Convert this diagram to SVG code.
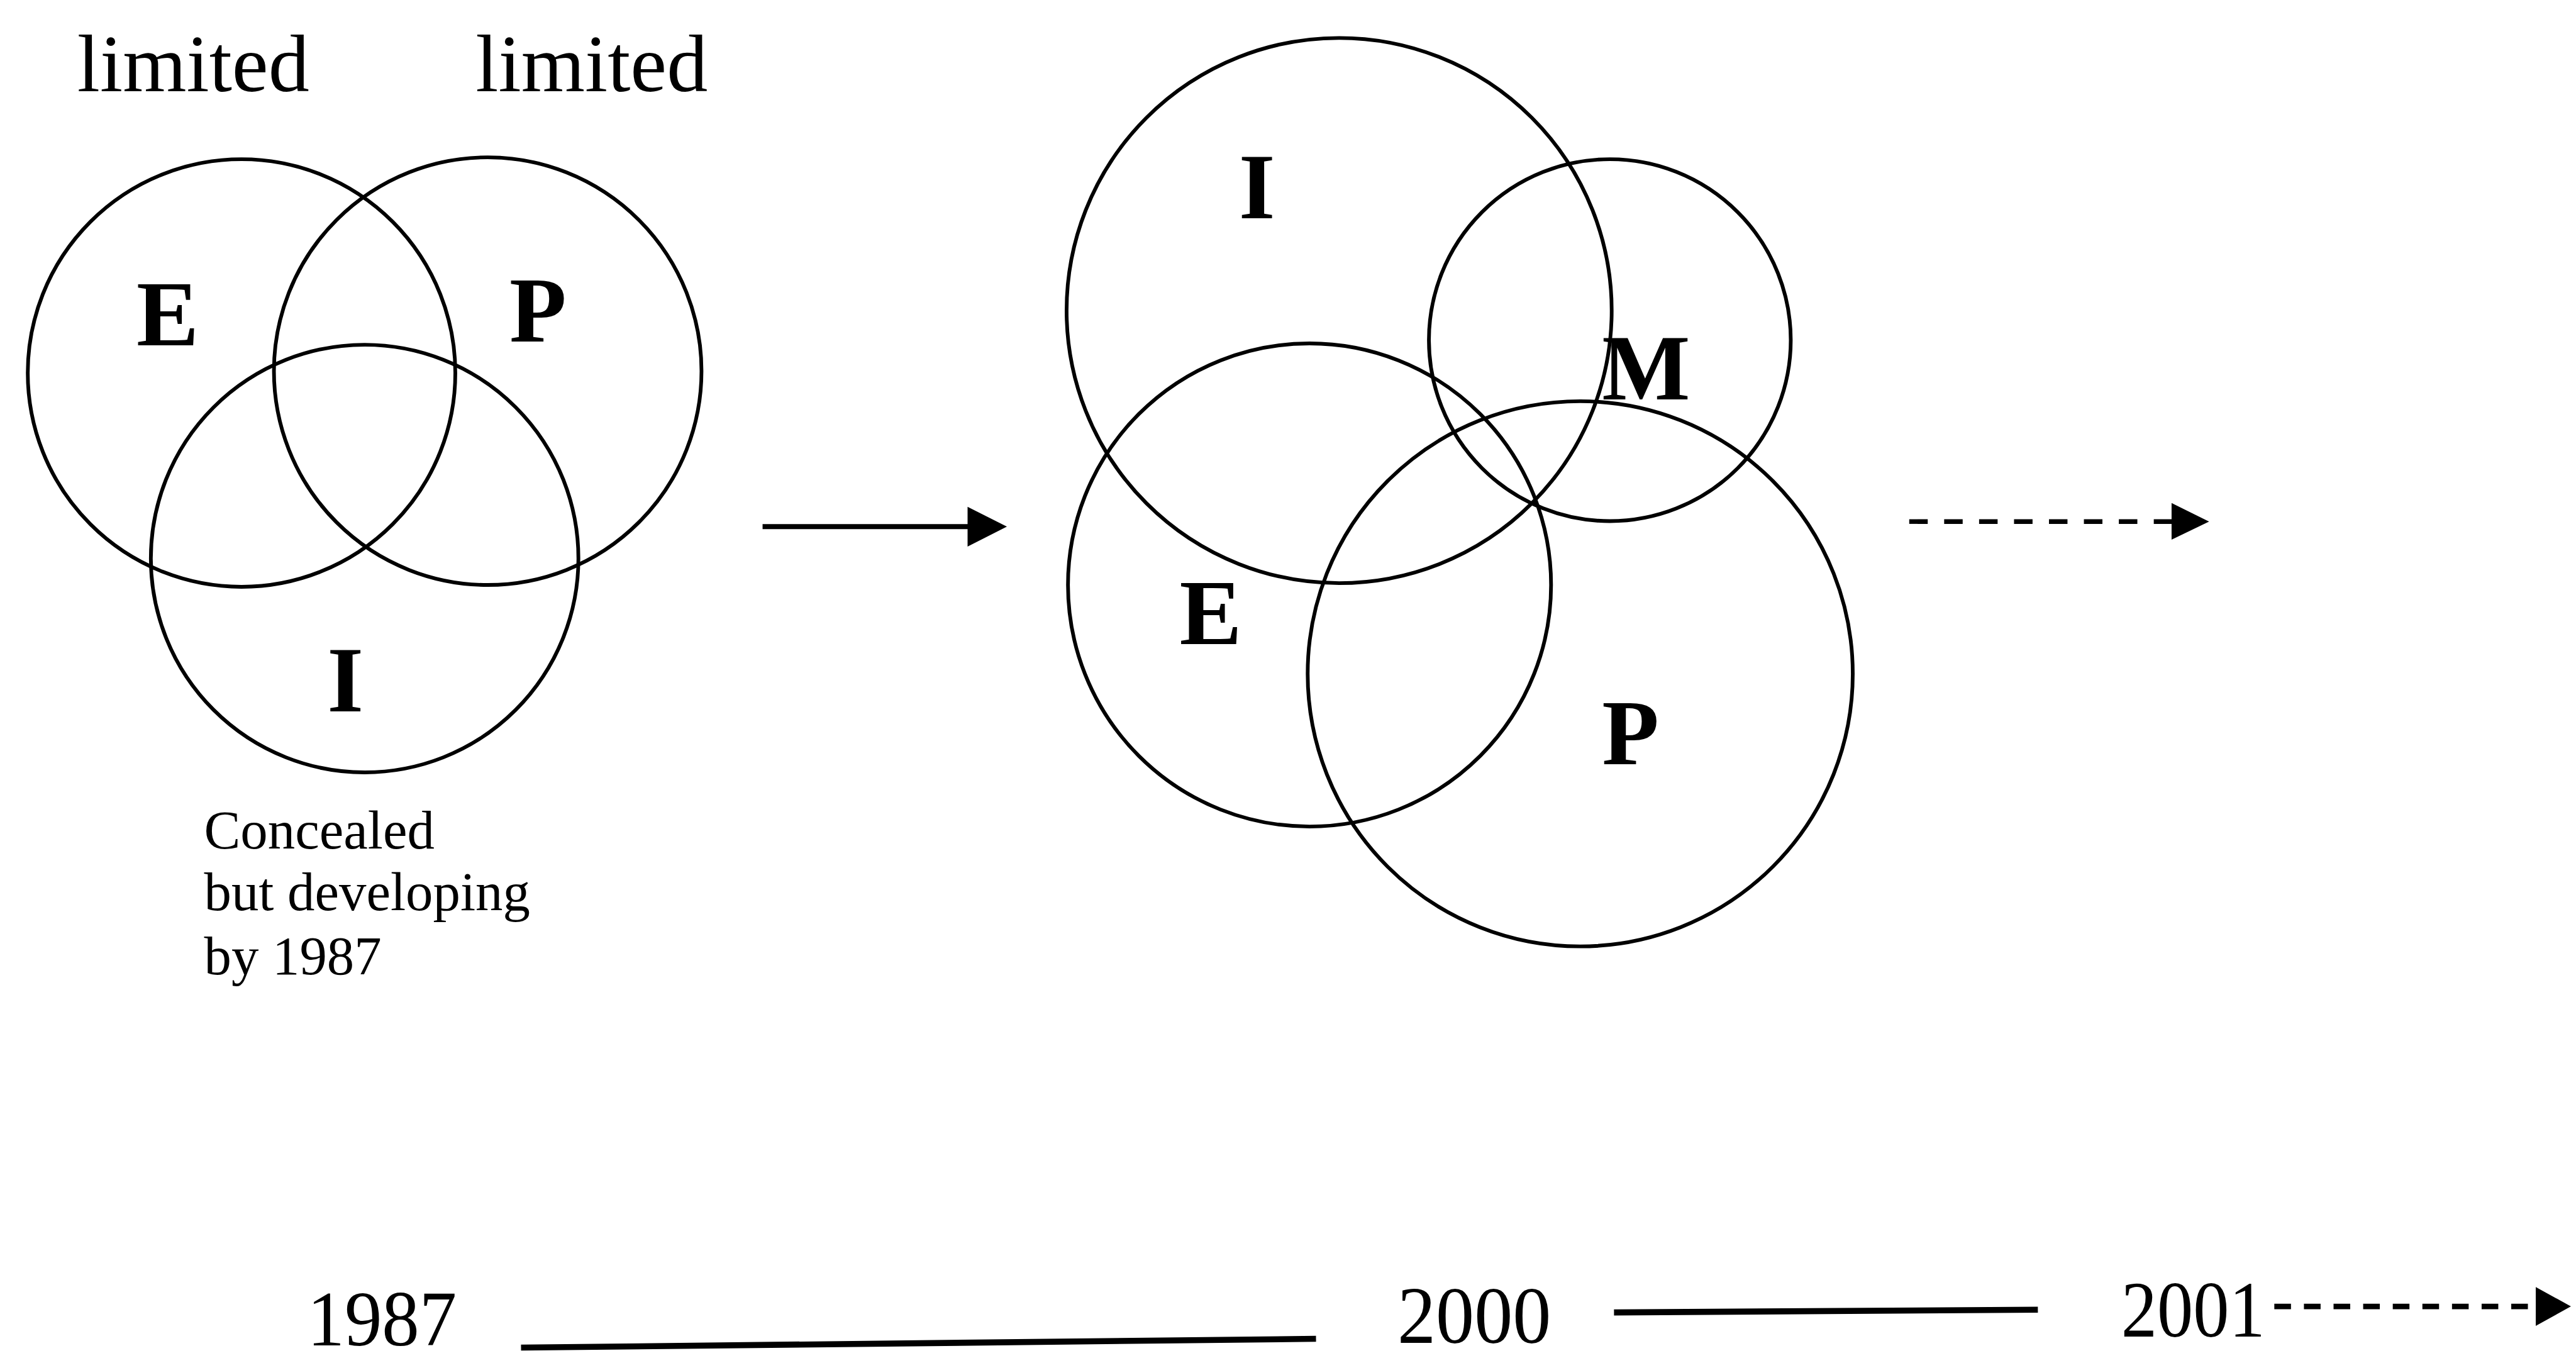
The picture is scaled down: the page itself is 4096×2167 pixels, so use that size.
<svg xmlns="http://www.w3.org/2000/svg" width="4096" height="2167" viewBox="0 0 4096 2167">
<defs>
<style>
.c{fill:none;stroke:#000;stroke-width:8}
.lbl{font-family:"Liberation Serif","Times New Roman",serif;font-weight:bold;font-size:202px;fill:#000}
.t{font-family:"Liberation Serif","Times New Roman",serif;fill:#000}
.ln{stroke:#000;fill:none}
.hd{fill:#000}
</style>
</defs>
<rect width="4096" height="2167" fill="#fff"/>
<g transform="scale(0.73577)">
<g id="labels-top">
<text class="t" x="167" y="197" font-size="177">limited</text>
<text class="t" x="1028" y="197" font-size="177">limited</text>
</g>
<g id="venn-1987">
<g id="c1-E"><circle class="c" cx="522" cy="806" r="462"/><text class="lbl" x="295" y="746">E</text></g>
<g id="c1-P"><circle class="c" cx="1054" cy="802" r="462"/><text class="lbl" x="1101" y="738">P</text></g>
<g id="c1-I"><circle class="c" cx="788" cy="1207" r="462"/><text class="lbl" x="707" y="1537">I</text></g>
</g>
<g id="note">
<text class="t" font-size="118"><tspan x="441" y="1833">Concealed</tspan><tspan x="441" y="1967">but developing</tspan><tspan x="441" y="2105">by 1987</tspan></text>
</g>
<g id="venn-2000">
<g id="c2-I"><circle class="c" cx="2894" cy="671" r="589"/><text class="lbl" x="2677" y="472">I</text></g>
<g id="c2-M"><circle class="c" cx="3479" cy="735" r="391"/><text class="lbl" x="3462" y="863">M</text></g>
<g id="c2-E"><circle class="c" cx="2830" cy="1264" r="522"/><text class="lbl" x="2549" y="1392">E</text></g>
<g id="c2-P"><circle class="c" cx="3415" cy="1456" r="589"/><text class="lbl" x="3462" y="1651">P</text></g>
</g>
<g id="timeline-labels">
<text class="t" x="664" y="2907" font-size="170" textLength="323" lengthAdjust="spacingAndGlyphs">1987</text>
<text class="t" x="3020" y="2902" font-size="176" textLength="332" lengthAdjust="spacingAndGlyphs">2000</text>
<text class="t" x="4584" y="2888" font-size="172" textLength="311" lengthAdjust="spacingAndGlyphs">2001</text>
</g>
<g id="connectors">
<line class="ln" x1="1648" y1="1138" x2="2095" y2="1138" stroke-width="11"/>
<polygon class="hd" points="2091,1095 2176,1138 2091,1181"/>
<line class="ln" x1="4126" y1="1127" x2="4697" y2="1127" stroke-width="10" stroke-dasharray="40 35.5"/>
<polygon class="hd" points="4693,1087 4774,1127 4693,1166"/>
<line class="ln" x1="1126" y1="2912" x2="2844" y2="2893" stroke-width="13"/>
<line class="ln" x1="3488" y1="2836" x2="4404" y2="2830" stroke-width="13"/>
<line class="ln" x1="4915" y1="2823" x2="5484" y2="2823" stroke-width="12" stroke-dasharray="36 28"/>
<polygon class="hd" points="5480,2781 5556,2823 5480,2865"/>
</g>
</g>
</svg>
